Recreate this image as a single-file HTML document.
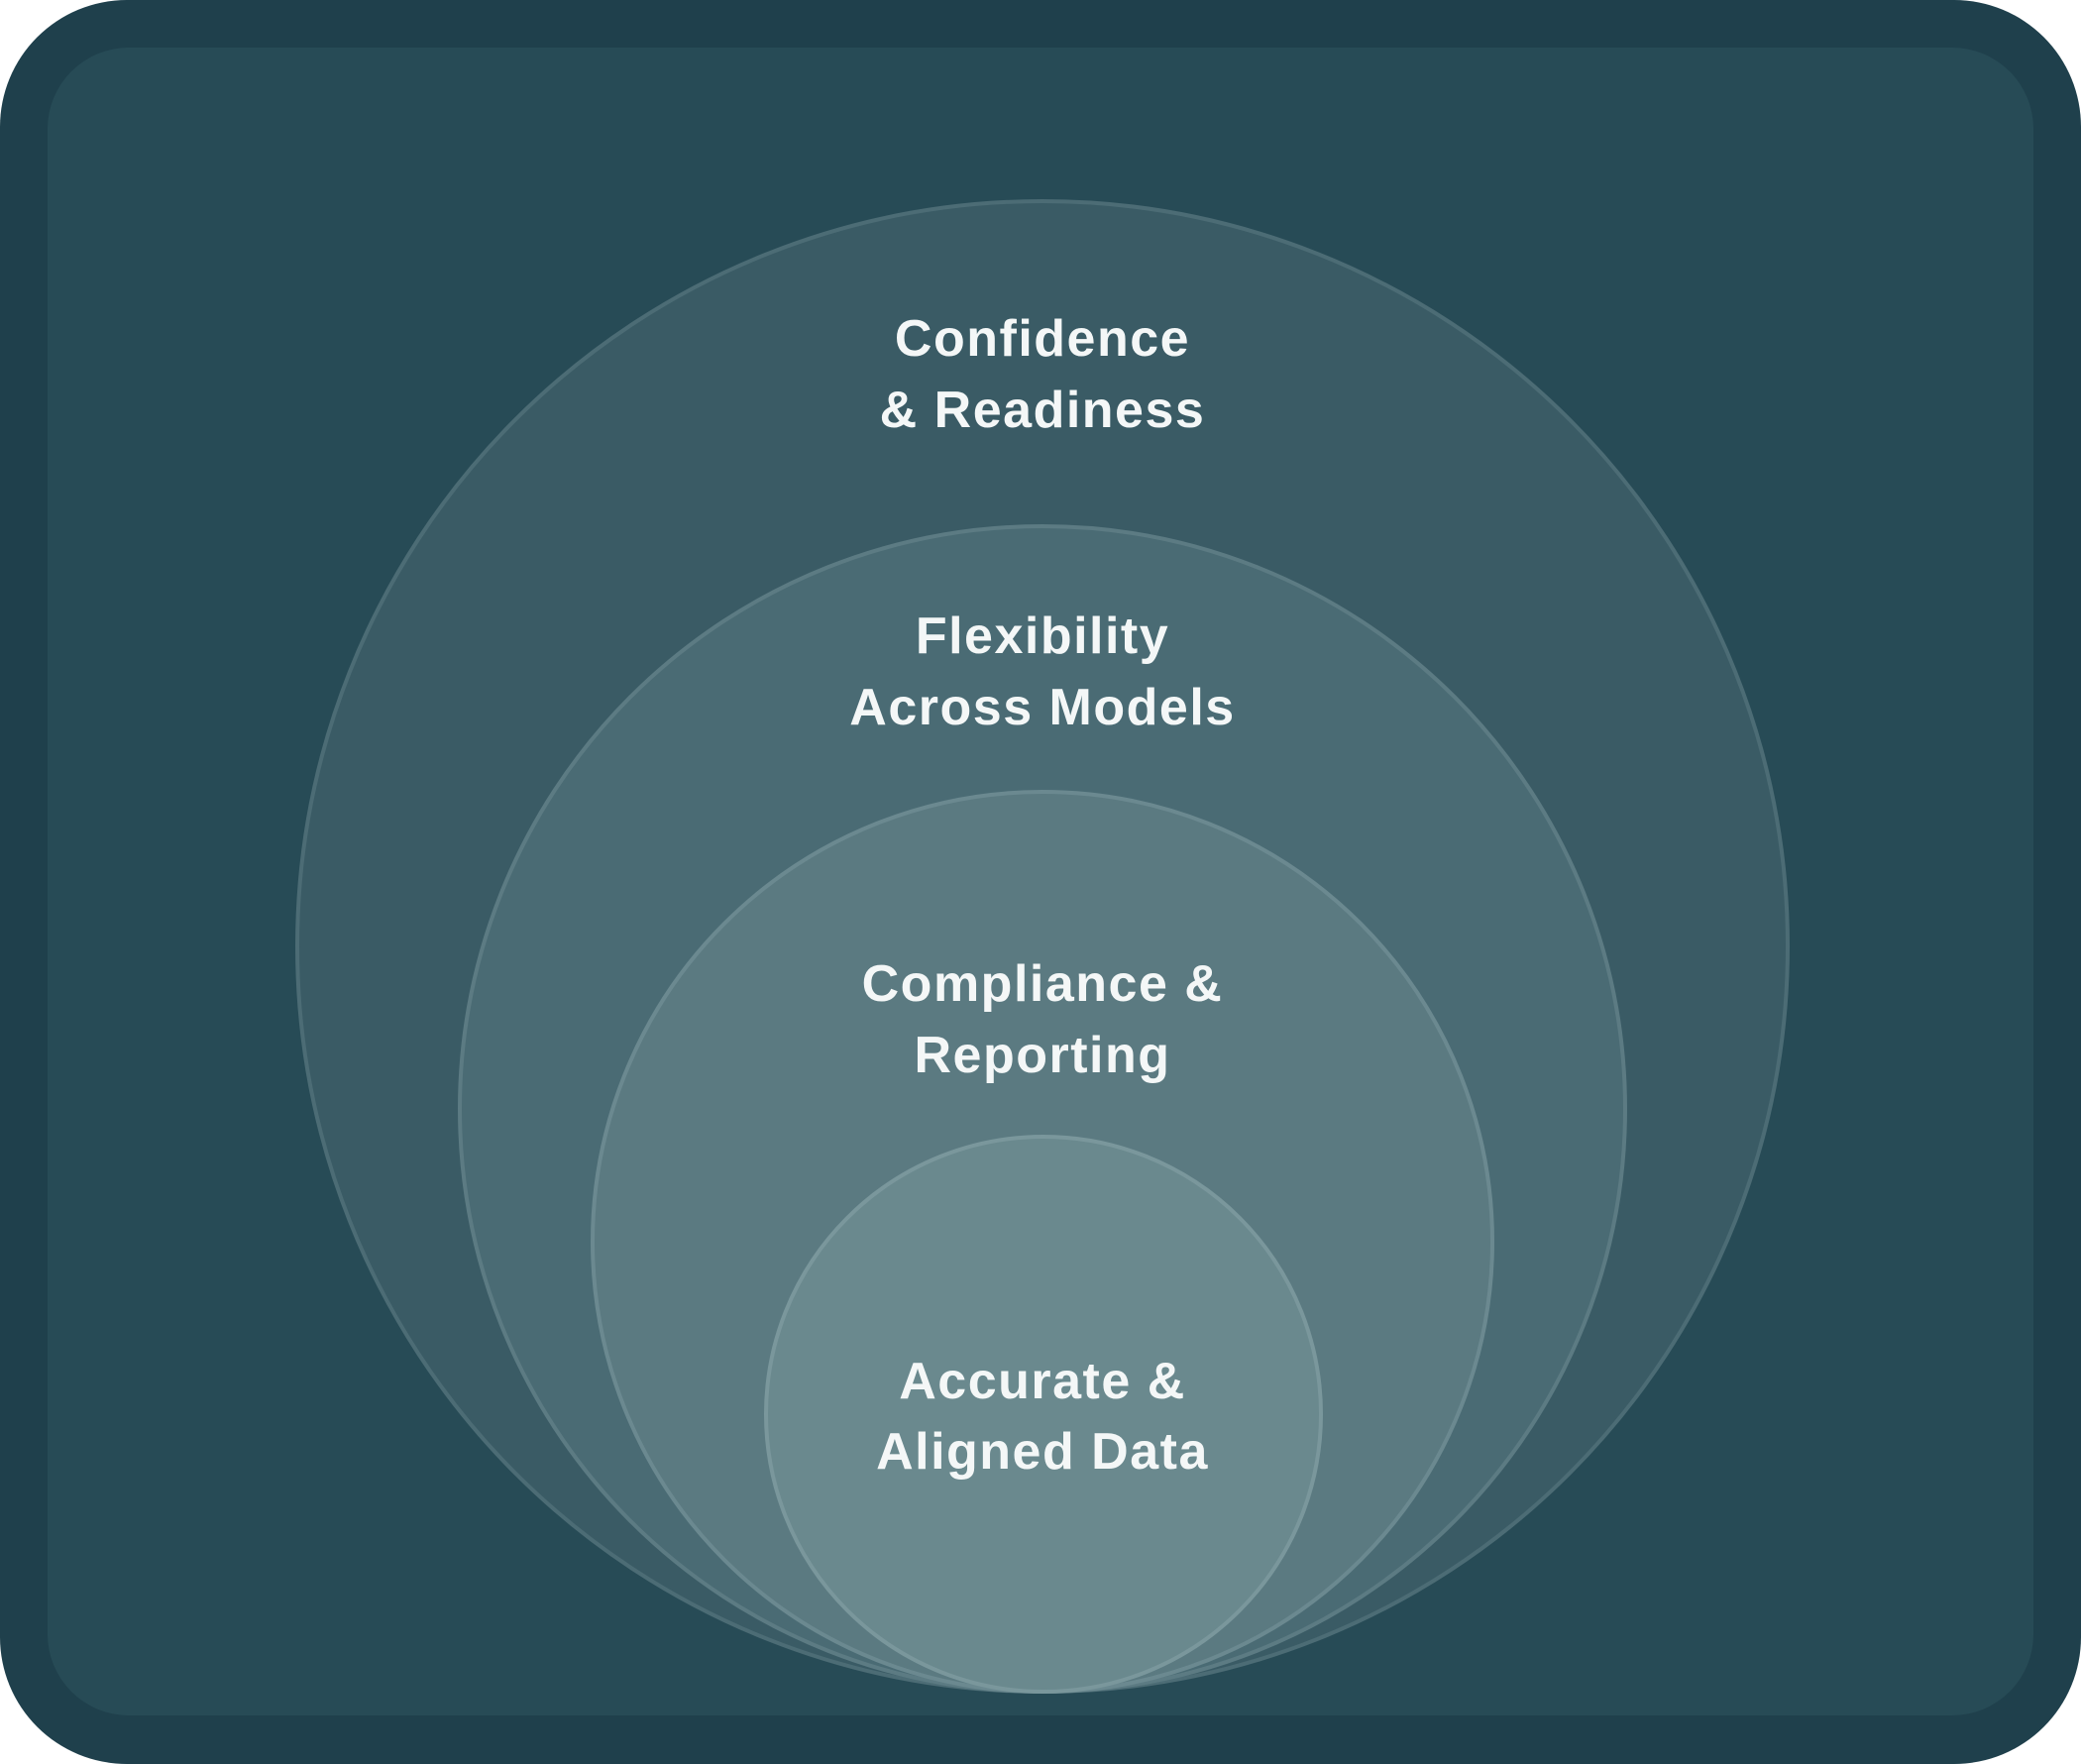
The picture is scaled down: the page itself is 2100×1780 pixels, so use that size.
<!DOCTYPE html>
<html><head><meta charset="utf-8"><style>
html,body{margin:0;padding:0;width:2100px;height:1780px;overflow:hidden;background:#fff}
svg{display:block}
text{font-family:"Liberation Sans",sans-serif;font-weight:bold;fill:#f4f7f7;font-size:52px;letter-spacing:1.5px;text-anchor:middle}
</style></head><body>
<svg width="2100" height="1780" viewBox="0 0 2100 1780" xmlns="http://www.w3.org/2000/svg">
<rect x="0" y="0" width="2100" height="1780" rx="128" fill="#1f404c"/>
<rect x="48" y="48" width="2004" height="1683" rx="82" fill="#274b56"/>
<circle cx="1052" cy="955" r="752" fill="#3a5b65" stroke="#4c6c75" stroke-width="4"/>
<circle cx="1052" cy="1119" r="588" fill="#4a6b74" stroke="#5c7b83" stroke-width="4"/>
<circle cx="1052" cy="1253" r="454" fill="#5b7a81" stroke="#6b8990" stroke-width="4"/>
<circle cx="1053" cy="1427" r="280" fill="#6a898e" stroke="#7a979c" stroke-width="4"/>
<text x="1052" y="359">Confidence</text>
<text x="1052" y="431">&amp; Readiness</text>
<text x="1052" y="659">Flexibility</text>
<text x="1052" y="731">Across Models</text>
<text x="1052" y="1010">Compliance &amp;</text>
<text x="1052" y="1082">Reporting</text>
<text x="1052" y="1411">Accurate &amp;</text>
<text x="1052" y="1482">Aligned Data</text>
</svg>
</body></html>
